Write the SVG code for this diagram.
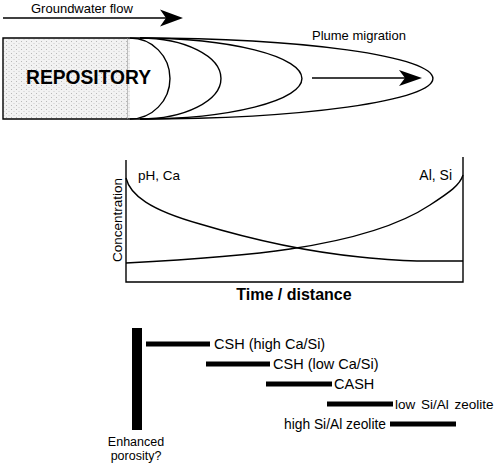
<svg xmlns="http://www.w3.org/2000/svg" width="498" height="465" viewBox="0 0 498 465">
<style>
text{font-family:"Liberation Sans",Arial,sans-serif;fill:#000}
.ln{fill:none;stroke:#000;stroke-width:1.4}
.bar{fill:#000}
</style>
<defs>
<pattern id="stip" width="5" height="4" patternUnits="userSpaceOnUse">
<rect width="5" height="4" fill="#f2f2f2"/>
<rect x="1" y="1" width="1" height="1" fill="#b8b8b8"/>
<rect x="3.5" y="3" width="1" height="1" fill="#cccccc"/>
</pattern>
</defs>
<rect width="498" height="465" fill="#fff"/>
<g id="groundwater-flow">
<line class="ln" x1="3" y1="18" x2="170" y2="18" stroke-width="1.6"/>
<path d="M183,18 L160,9.5 L166,18 L160,26.5 Z" fill="#000"/>
<text x="31" y="13" font-size="13">Groundwater flow</text>
</g>
<g id="repository">
<rect x="3" y="38" width="127" height="81" fill="url(#stip)"/>
<path class="ln" d="M140,38 L3,38 L3,119 L140,119"/>
<line x1="127.5" y1="38" x2="127.5" y2="119" stroke="#999" stroke-width="0.6"/>
<text x="26" y="84" font-size="20" font-weight="bold" textLength="125" lengthAdjust="spacingAndGlyphs">REPOSITORY</text>
</g>
<g id="plume">
<path class="ln" d="M130,38 A40,40.5 0 0 1 130,119"/>
<path class="ln" d="M140,38 A81,40.5 0 0 1 140,119"/>
<path class="ln" d="M140,38 A162,40.5 0 0 1 140,119"/>
<path class="ln" d="M140,38 A293,40.5 0 0 1 140,119"/>
<line class="ln" x1="312" y1="78" x2="408" y2="78"/>
<path d="M422,78 L399,70 L405,78 L399,86 Z" fill="#000"/>
<text x="312" y="40" font-size="13">Plume migration</text>
</g>
<g id="chart">
<path class="ln" d="M126,160 L126,282 L463,282 L463,157"/>
<path class="ln" d="M126,178 C130,195 150,210 200,224 C240,236 300,251 360,257 C390,260 410,261 423,261 L463,261"/>
<path class="ln" d="M126,263 C200,259 250,255 290,249 C350,240 400,225 430,205 C450,192 460,185 463,175"/>
<text x="138" y="180" font-size="13.5">pH, Ca</text>
<text x="452" y="180" font-size="14" text-anchor="end">Al, Si</text>
<text transform="translate(122,220) rotate(-90)" font-size="13.5" text-anchor="middle">Concentration</text>
<text x="294" y="300" font-size="16" font-weight="bold" text-anchor="middle">Time / distance</text>
</g>
<g id="porosity">
<rect class="bar" x="132" y="328" width="10" height="102"/>
<text x="136" y="446" font-size="12.5" text-anchor="middle">Enhanced</text>
<text x="136" y="460" font-size="12.5" text-anchor="middle">porosity?</text>
</g>
<g id="csh-high">
<rect class="bar" x="146" y="341.5" width="64" height="5"/>
<text x="214" y="349" font-size="14.5">CSH (high Ca/Si)</text>
</g>
<g id="csh-low">
<rect class="bar" x="206" y="361.5" width="64" height="5"/>
<text x="273" y="369" font-size="14.5">CSH (low Ca/Si)</text>
</g>
<g id="cash">
<rect class="bar" x="266" y="381.5" width="66" height="5"/>
<text x="334" y="389" font-size="14.5">CASH</text>
</g>
<g id="low-zeolite">
<rect class="bar" x="327" y="401.5" width="66" height="5"/>
<text x="395" y="409" font-size="13.5" word-spacing="2">low Si/Al zeolite</text>
</g>
<g id="high-zeolite">
<rect class="bar" x="390" y="421.5" width="66" height="5"/>
<text x="386" y="429" font-size="13.8" text-anchor="end">high Si/Al zeolite</text>
</g>
</svg>
